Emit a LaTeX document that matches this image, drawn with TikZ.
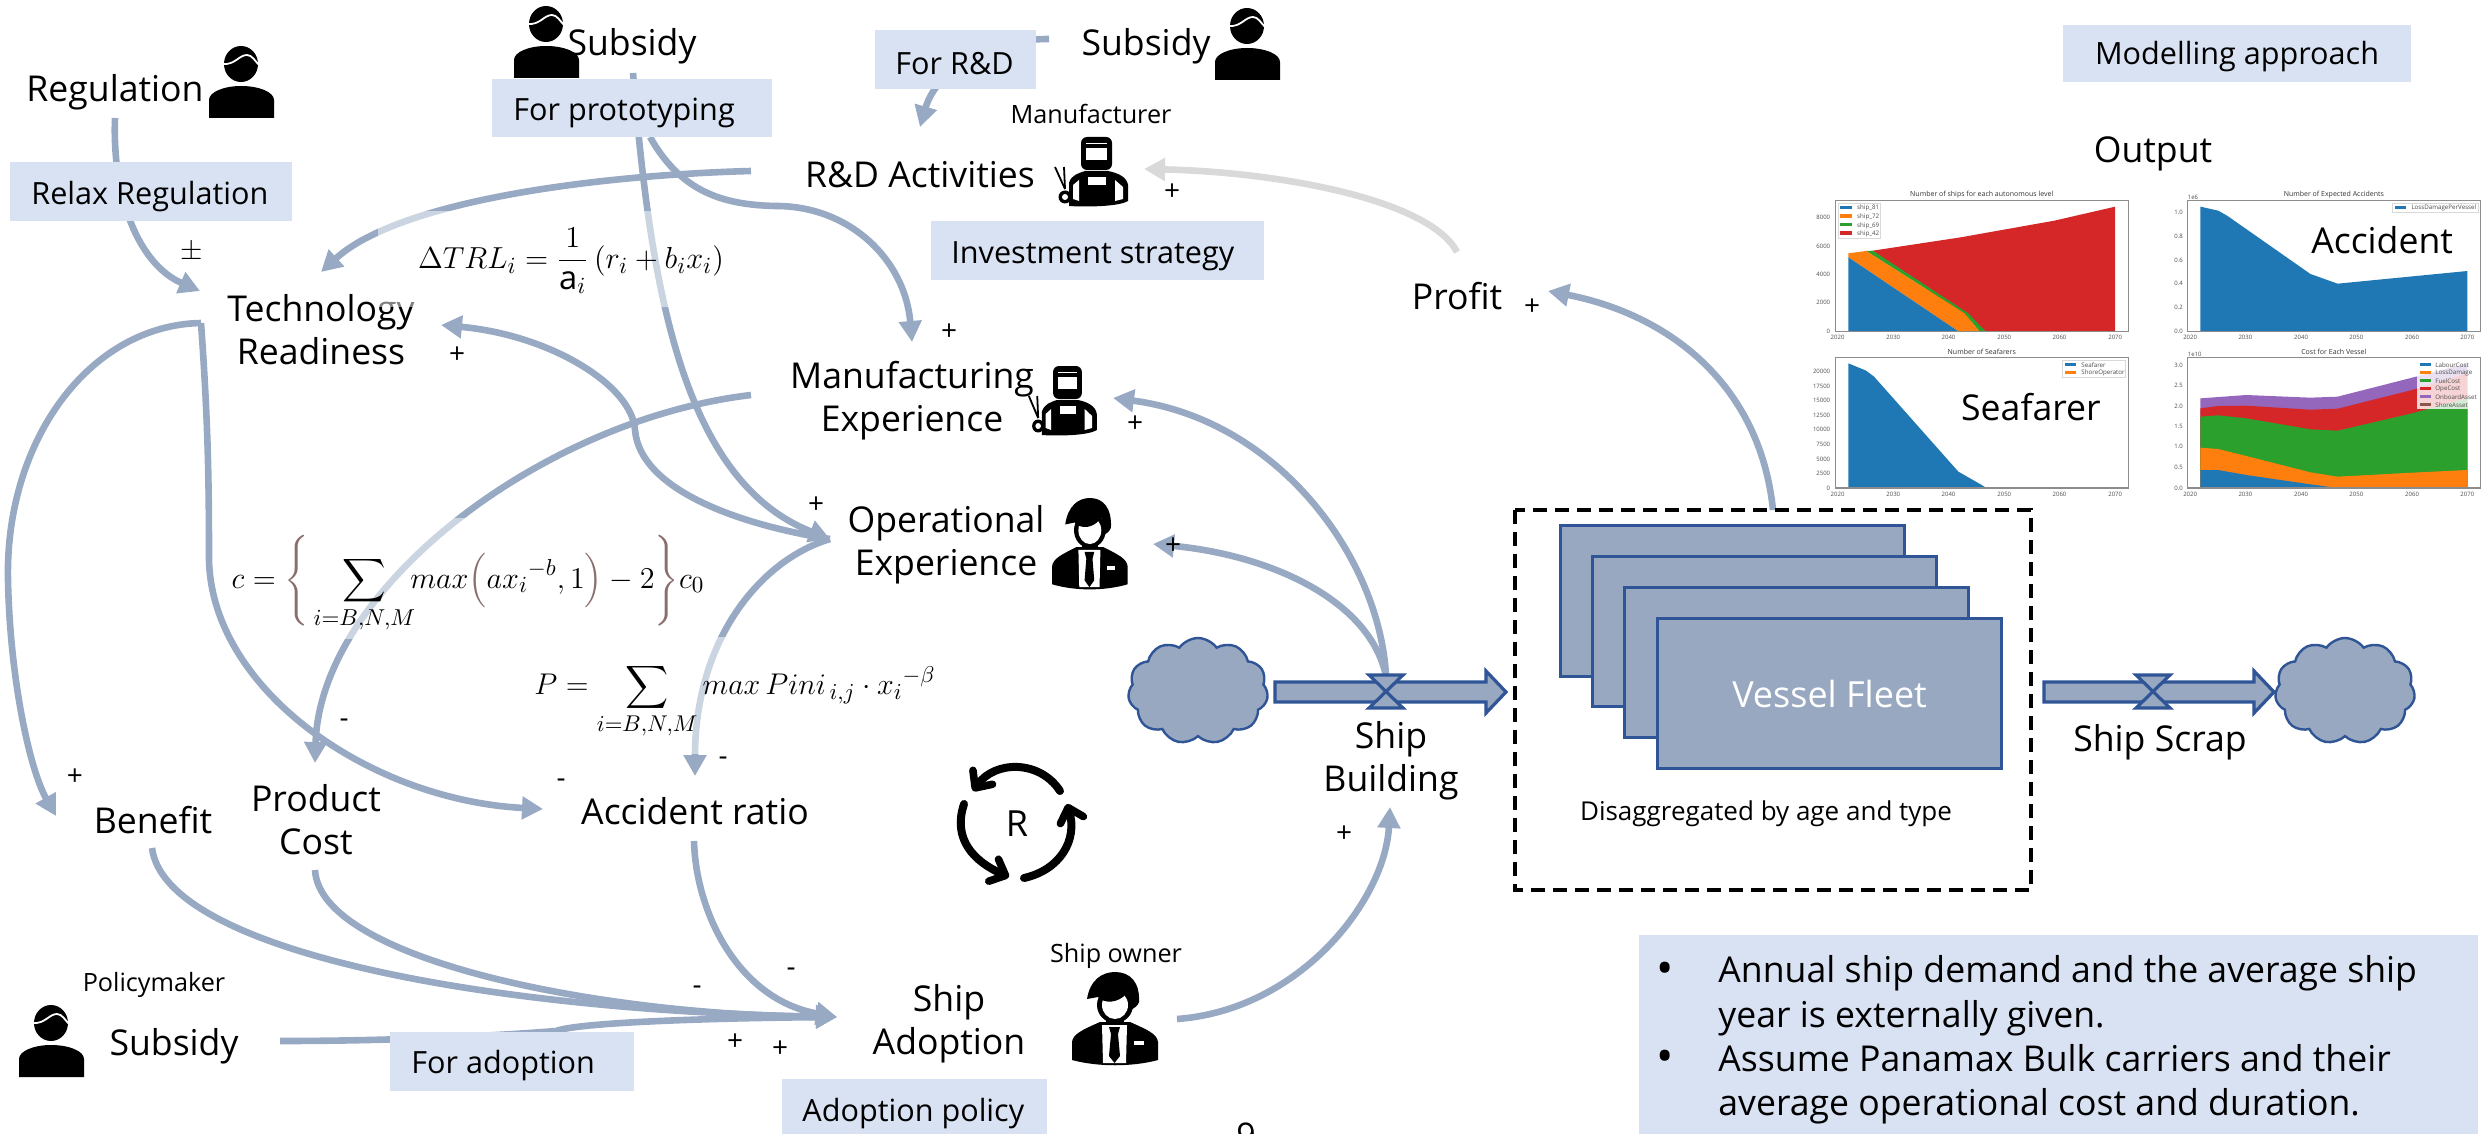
\documentclass[tikz,border=0pt]{standalone}
\usepackage{fontspec}
\usepackage{amsmath}
\setmainfont{Open Sans}
\usetikzlibrary{arrows.meta,shapes.symbols}
\definecolor{linkc}{HTML}{97A9C3}
\definecolor{boxc}{HTML}{D9E2F3}
\definecolor{pipec}{HTML}{97A8C0}
\definecolor{pipeb}{HTML}{2F5597}
\definecolor{grayl}{HTML}{D9D9D9}
\definecolor{brc}{HTML}{8A6D6D}
\definecolor{mplb}{HTML}{1F77B4}
\definecolor{mplo}{HTML}{FF7F0E}
\definecolor{mplg}{HTML}{2CA02C}
\definecolor{mplr}{HTML}{D62728}
\definecolor{mplp}{HTML}{9467BD}
\definecolor{mplbr}{HTML}{8C564B}
\newcommand{\fs}[1]{\fontsize{#1}{#1}\selectfont}
\tikzset{
  big/.style={inner sep=0pt,align=center,font=\fontsize{17.8}{21.6}\selectfont},
  small/.style={inner sep=0pt,align=center,font=\fs{12.6}},
  sign/.style={inner sep=0pt,font=\fs{14}},
  tag/.style={fill=boxc,inner sep=0pt,anchor=north west},
  tagt/.style={font=\fs{15.3},inner sep=0pt,anchor=west},
  link/.style={draw=linkc,line width=3.3pt,-{Triangle[width=11pt,length=10.5pt]}},
  veil/.style={fill=white,fill opacity=.5,draw=none},
  eqn/.style={inner sep=0pt,font=\fs{15.5}},
  pipe/.style={fill=pipec,draw=pipeb,line width=1.6pt,line join=miter},
  puff/.style={cloud,cloud puffs=11,cloud puff arc=110,fill=pipec,draw=pipeb,line width=1.2pt,inner sep=0pt},
  stock/.style={fill=pipec,draw=pipeb,line width=1.6pt},
  loopa/.style={draw=black,line width=4pt,line cap=round,-{Straight Barb[width=12pt,length=6.5pt,line width=3.8pt,round]}},
  tick/.style={inner sep=0pt,font=\fs{3},text=black!70},
  ctitle/.style={inner sep=0pt,font=\fs{3.5},text=black!80},
  lgd/.style={inner sep=0pt,font=\fs{3.1},anchor=west,text=black!70},
  frm/.style={draw=black!45,line width=.6pt},
  personpic/.pic={
    \fill (0,72) -- (0,54) .. controls (0,46) and (15,40) .. (32,40) .. controls (50,40) and (65,46) .. (65,54) -- (65,72) -- cycle;
    \fill (32,18) ellipse [x radius=17,y radius=18];
    \draw[white,line width=.9pt] (14,18) .. controls (26,19) and (30,9) .. (38,9) .. controls (43,9) and (46,15) .. (50,19);
  },
  welderpic/.pic={
    \fill[rounded corners=3] (28,0) rectangle (59,33);
    \fill[white] (33,11) rectangle (54,23);
    \fill[white] (33,6) rectangle (54,7);
    \fill (16,69) -- (16,46) .. controls (18,38) and (26,36) .. (32,34) -- (55,34) .. controls (65,36) and (74,40) .. (75,48) -- (75,64) .. controls (65,70) and (30,70) .. (16,69) -- cycle;
    \fill[white] (62,43) -- (70,50) -- (70,62) -- (62,64) -- cycle;
    \fill[white] (20,48) -- (26,43) -- (26,64) -- (20,62) -- cycle;
    \fill[white] (35,40) rectangle (53,48);
    \draw[line width=.9pt] (2,30) -- (12,52);
    \draw[line width=.9pt] (11,30) -- (12,52);
    \fill (12,60) circle [radius=6.5];
    \fill[white] (12,60) circle [radius=3];
  },
  suitpic/.pic={
    \fill (0,88) -- (0,70) .. controls (1,62) and (10,58) .. (28,50) -- (58,50) .. controls (76,58) and (85,62) .. (86,70) -- (86,88) .. controls (60,95) and (26,95) .. (0,88) -- cycle;
    \fill[white] (30,53) -- (55,53) -- (54,91) -- (31,91) -- cycle;
    \fill (37,55) -- (48,55) -- (46,62) -- (48,84) -- (42.5,91) -- (37,84) -- (39,62) -- cycle;
    \fill[white] (62,69) rectangle (72,73);
    \fill (34,38) rectangle (52,52);
    \fill (43,33) ellipse [x radius=18,y radius=18];
    \fill[white] (43,33) ellipse [x radius=13,y radius=14];
    \fill (15,27) .. controls (18,8) and (30,0) .. (43,0) .. controls (58,0) and (68,10) .. (67,30) .. controls (66,34) and (62,36) .. (59,38) .. controls (59,30) and (58,26) .. (56,20) .. controls (50,28) and (38,33) .. (28,27) -- (26,25) -- cycle;
  },
}
\begin{document}
\begin{tikzpicture}[x=.5pt,y=-.5pt]
\path[use as bounding box] (0,0) rectangle (2484,1134);

% ---------- icons
\pic at (209,46) {personpic};
\pic at (514,6) {personpic};
\pic at (1215,8) {personpic};
\pic at (19,1005) {personpic};
\pic at (1053,137) {welderpic};
\pic[xscale=.93] at (1027,366) {welderpic};
\pic[xscale=.88,yscale=.98] at (1052,498) {suitpic};
\pic at (1072,972) {suitpic};

% ---------- text nodes
\node[big] (regulation) at (115,92) {Regulation};
\node[big] (subsidyb) at (632,46) {Subsidy};
\node[big] (subsidyc) at (1146,46) {Subsidy};
\node[big] (tech) at (321,330) {Technology\\Readiness};
\node[big] (rnd) at (920,175) {R\&D Activities};
\node[small] (maker) at (1091,114) {Manufacturer};
\node[big] (manuf) at (912,401) {Manufacturing\\Experience};
\node[big] (oper) at (946,545) {Operational\\Experience};
\node[big] (profit) at (1457,296) {Profit};
\node[big] (benefit) at (153,820) {Benefit};
\node[big] (cost) at (316,820) {Product\\Cost};
\node[big] (accident) at (695,811) {Accident ratio};
\node[big] (adoption) at (949,1024) {Ship\\Adoption};
\node[small] (policy) at (154,985) {Policymaker};
\node[big] (subsidya) at (174,1046) {Subsidy};
\node[small] (owner) at (1116,956) {Ship owner};
\node[big] (building) at (1391,761) {Ship\\Building};
\node[big] (scrap) at (2160,742) {Ship Scrap};
\node[big] (output) at (2153,154) {Output};
\node[inner sep=0pt,font=\fs{18}] (rmark) at (1017,824) {R};
\node[sign,font=\fs{17}] (pagenum) at (1246,1135) {9};

% ---------- anchors of connectors
\coordinate (regOut) at (115,118);
\coordinate (techA) at (200,291);
\coordinate (techB) at (321,272);
\coordinate (techC) at (441,325);
\coordinate (techOut) at (201,323);
\coordinate (subbOut) at (633,73);
\coordinate (subbOutR) at (650,137);
\coordinate (subcOut) at (1049,39);
\coordinate (rndOutL) at (751,171);
\coordinate (rndIn) at (920,127);
\coordinate (rndInR) at (1144,169);
\coordinate (manIn) at (912,342);
\coordinate (manInR) at (1113,398);
\coordinate (manOut) at (751,395);
\coordinate (opIn) at (830,539);
\coordinate (opOut) at (830,539);
\coordinate (opInR) at (1153,544);
\coordinate (benIn) at (56,816);
\coordinate (costIn) at (315,763);
\coordinate (accIn) at (543,809);
\coordinate (accInT) at (695,776);
\coordinate (benOut) at (152,848);
\coordinate (costOut) at (315,870);
\coordinate (accOut) at (694,841);
\coordinate (subaOut) at (280,1041);
\coordinate (adIn) at (837,1017);
\coordinate (adOut) at (1177,1019);
\coordinate (bldIn) at (1390,807);
\coordinate (valveA) at (1386,676);
\coordinate (profitIn) at (1548,291);
\coordinate (fleetOut) at (1773,510);
\coordinate (profitOut) at (1457,252);

% ---------- causal links
\draw[link] (regOut) .. controls (112,200) and (140,265) .. (techA);
\draw[link] (rndOutL) .. controls (600,175) and (400,200) .. (techB);
\draw[link] (subbOut) .. controls (650,280) and (680,480) .. (opIn);
\draw[link] (subbOutR) .. controls (680,190) and (720,205) .. (776,206) .. controls (850,206) and (905,260) .. (manIn);
\draw[link] (opOut) .. controls (740,525) and (640,490) .. (635,430) .. controls (632,385) and (550,335) .. (techC);
\draw[link] (manOut) .. controls (540,420) and (320,590) .. (costIn);
\draw[link] (techOut) .. controls (208,420) and (209,480) .. (209,560) .. controls (212,690) and (370,800) .. (accIn);
\draw[link] (techOut) .. controls (90,325) and (5,440) .. (8,580) .. controls (10,680) and (30,770) .. (benIn);
\draw[link] (opOut) .. controls (760,560) and (695,640) .. (accInT);
\draw[link] (benOut) .. controls (165,950) and (480,1010) .. (adIn);
\draw[link] (costOut) .. controls (320,960) and (600,1015) .. (adIn);
\draw[link] (accOut) .. controls (696,915) and (740,1000) .. (adIn);
\draw[link] (subaOut) .. controls (380,1041) and (480,1037) .. (556,1031) .. controls (580,1022) and (720,1018) .. (adIn);
\draw[link] (adOut) .. controls (1300,1010) and (1385,900) .. (bldIn);
\draw[link] (valveA) .. controls (1380,560) and (1280,420) .. (manInR);
\draw[link] (valveA) .. controls (1370,600) and (1270,555) .. (opInR);
\draw[link] (fleetOut) .. controls (1760,385) and (1670,315) .. (profitIn);
\draw[link,draw=grayl,-{Triangle[width=11pt,length=10.5pt,fill=grayl]}] (profitOut) .. controls (1430,200) and (1280,172) .. (rndInR);
\draw[link] (subcOut) .. controls (980,39) and (935,75) .. (rndIn);

% ---------- policy boxes
\node[tag,minimum width=141pt,minimum height=29.5pt] (relax) at (10,162) {};
\node[tagt] (relaxt) at (31,197) {Relax Regulation};
\node[tag,minimum width=140pt,minimum height=29pt] (proto) at (492,79) {};
\node[tagt] (protot) at (513,113) {For prototyping};
\node[tag,minimum width=80.5pt,minimum height=29.5pt] (forrd) at (875,30) {};
\node[tagt] (forrdt) at (895,64) {For R\&D};
\node[tag,minimum width=166.5pt,minimum height=29.5pt] (invest) at (931,221) {};
\node[tagt] (investt) at (951,256) {Investment strategy};
\node[tag,minimum width=122pt,minimum height=29.5pt] (foradopt) at (390,1032) {};
\node[tagt] (foradoptt) at (411,1066) {For adoption};
\node[tag,minimum width=132.5pt,minimum height=27.5pt] (adpol) at (782,1079) {};
\node[tagt] (adpolt) at (802,1114) {Adoption policy};
\node[tag,minimum width=174pt,minimum height=28.5pt] (modelbox) at (2063,25) {};
\node[tagt,anchor=center] (modelt) at (2237,57) {Modelling approach};

% ---------- translucent equation boxes and equations
\fill[veil] (378,211) rectangle (730,307);
\fill[veil] (290,518) rectangle (710,639);
\fill[veil] (530,637) rectangle (940,754);
\node[eqn,scale=1.055] (eqa) at (571,261) {$\displaystyle \Delta TRL_i=\frac{1}{\mathrm{a}_i}\,(r_i+b_ix_i)$};
\node[eqn,scale=1.05] (eqb) at (468,584) {$\displaystyle c=\textcolor{brc}{\Biggl\{}\sum_{i=B,N,M}\!\! max\textcolor{brc}{\Bigl(}ax_i{}^{-b},1\textcolor{brc}{\Bigr)}-2\textcolor{brc}{\Biggr\}}c_0$};
\node[eqn,scale=1.04] (eqc) at (735,701) {$\displaystyle P=\sum_{i=B,N,M} max\,Pini_{\,i,j}\cdot x_i{}^{-\beta}$};

% ---------- signs
\node[sign] (s1) at (192,252) {$\pm$};
\node[sign] (s2) at (457,355) {+};
\node[sign] (s3) at (949,332) {+};
\node[sign] (s4) at (1172,192) {+};
\node[sign] (s5) at (1135,424) {+};
\node[sign] (s6) at (816,505) {+};
\node[sign] (s7) at (1173,546) {+};
\node[sign] (s8) at (75,777) {+};
\node[sign] (s9) at (735,1042) {+};
\node[sign] (s10) at (780,1049) {+};
\node[sign] (s11) at (1344,834) {+};
\node[sign] (s12) at (1532,307) {+};
\node[sign] (m1) at (344,723) {-};
\node[sign] (m2) at (561,783) {-};
\node[sign] (m3) at (723,761) {-};
\node[sign] (m4) at (697,990) {-};
\node[sign] (m5) at (791,972) {-};

% ---------- reinforcing loop
\draw[loopa] (1060,791) .. controls (1040,760) and (995,760) .. (973,791);
\draw[loopa] (964,804) .. controls (952,840) and (975,862) .. (1009,877);
\draw[loopa] (1024,878) .. controls (1060,870) and (1078,840) .. (1067,804);

% ---------- stock and flow
\node[puff,minimum width=70pt,minimum height=53pt] (cloudl) at (1198,691) {};
\node[puff,minimum width=70pt,minimum height=53pt] (cloudr) at (2345,691) {};
\path[pipe] (1275,682) -- (1486,682) -- (1486,671) -- (1506,692) -- (1486,713) -- (1486,702) -- (1275,702) -- cycle;
\path[pipe] (1369,675) -- (1403,675) -- (1369,708) -- (1403,708) -- cycle;
\path[pipe] (2044,682) -- (2254,682) -- (2254,671) -- (2274,692) -- (2254,713) -- (2254,702) -- (2044,702) -- cycle;
\path[pipe] (2136,675) -- (2170,675) -- (2136,708) -- (2170,708) -- cycle;
\node[stock,minimum width=172pt,minimum height=75.5pt,anchor=north west,inner sep=0pt] (st1) at (1559,524) {};
\node[stock,minimum width=172pt,minimum height=75pt,anchor=north west,inner sep=0pt] (st2) at (1591,555) {};
\node[stock,minimum width=172pt,minimum height=75pt,anchor=north west,inner sep=0pt] (st3) at (1623,586) {};
\node[stock,minimum width=172pt,minimum height=75pt,anchor=north west,inner sep=0pt,text=white,font=\fs{18}] (st4) at (1656,617) {Vessel Fleet};
\draw[line width=1.7pt,dash pattern=on 7pt off 4pt] (1515,510) rectangle (2031,890);
\node[small,font=\fs{13}] (disagg) at (1766,814) {Disaggregated by age and type};

% ---------- notes
\fill[boxc] (1639,935) rectangle (2478,1134);
\node[inner sep=0pt,anchor=west,align=left,font=\fontsize{17.8}{22.2}\selectfont] (notes) at (1718,1040) {Annual ship demand and the average ship\\year is externally given.\\Assume Panamax Bulk carriers and their\\average operational cost and duration.};
\node[inner sep=0pt,font=\fs{23}] (b1) at (1665,973) {•};
\node[inner sep=0pt,font=\fs{23}] (b2) at (1665,1061) {•};

% ---------- output charts (zoom coordinates)
\begin{scope}[shift={(1750,150)},x=.2341pt,y=-.16667pt]
% chart 1
\fill[mplr] (262,302) -- (450,262) -- (650,212) -- (780,170) -- (780,544) -- (503,544) -- cycle;
\fill[mplg] (248,303) -- (262,302) -- (466,490) -- (503,544) -- (490,544) -- (458,490) -- cycle;
\fill[mplo] (210,310) -- (248,303) -- (458,490) -- (490,544) -- (445,544) -- (210,322) -- cycle;
\fill[mplb] (210,322) -- (445,544) -- (210,544) -- cycle;
\draw[frm] (183,152) rectangle (808,544);
\node[ctitle] (t1) at (495,135) {Number of ships for each autonomous level};
\foreach \v/\yy [count=\k] in {8000/203,6000/289,4000/374,2000/458,0/544}
  \node[tick,anchor=east] (ya\k) at (172,\yy) {\v};
\foreach \v/\xx [count=\k] in {2020/187,2030/306,2040/424,2050/543,2060/661,2070/780}
  \node[tick] (xa\k) at (\xx,562) {\v};
\fill[white,draw=black!15,line width=.3pt] (188,160) rectangle (278,265);
\foreach \c/\t/\yy [count=\k] in {mplb/ship\_81/172,mplo/ship\_72/198,mplg/ship\_69/224,mplr/ship\_42/249}{
  \fill[\c] (192,\yy-5) rectangle (218,\yy+5);
  \node[lgd] (la\k) at (228,\yy+3) {\t};
}
% chart 2
\fill[mplb] (962,544) -- (962,170) -- (1000,182) -- (1020,198) -- (1197,372) -- (1255,401) -- (1532,363) -- (1532,544) -- cycle;
\draw[frm] (935,152) rectangle (1560,544);
\node[ctitle] (t2) at (1247,135) {Number of Expected Accidents};
\node[tick] (e2) at (946,142) {1e6};
\foreach \v/\yy [count=\k] in {1.0/187,0.8/258,0.6/330,0.4/401,0.2/473,0.0/544}
  \node[tick,anchor=east] (yb\k) at (925,\yy) {\v};
\foreach \v/\xx [count=\k] in {2020/940,2030/1058,2040/1177,2050/1295,2060/1414,2070/1532}
  \node[tick] (xb\k) at (\xx,562) {\v};
\fill[white,draw=black!15,line width=.3pt] (1372,160) rectangle (1555,188);
\fill[mplb] (1378,167) rectangle (1402,177);
\node[lgd] (lb1) at (1412,174) {LossDamagePerVessel};
\node[big] (accl) at (1350,270) {Accident};
% chart 3
\fill[mplb] (210,1014) -- (210,640) -- (248,662) -- (265,680) -- (445,965) -- (495,1005) -- (505,1014) -- cycle;
\draw[frm] (183,622) rectangle (808,1014);
\node[ctitle] (t3) at (495,607) {Number of Seafarers};
\foreach \v/\yy [count=\k] in {20000/664,17500/708,15000/752,12500/795,10000/839,7500/883,5000/927,2500/970,0/1014}
  \node[tick,anchor=east] (yc\k) at (172,\yy) {\v};
\foreach \v/\xx [count=\k] in {2020/187,2030/306,2040/424,2050/543,2060/661,2070/780}
  \node[tick] (xc\k) at (\xx,1032) {\v};
\fill[white,draw=black!15,line width=.3pt] (668,632) rectangle (802,682);
\fill[mplb] (673,638) rectangle (697,648);
\node[lgd] (lc1) at (707,645) {Seafarer};
\fill[mplo] (673,662) rectangle (697,672);
\node[lgd] (lc2) at (707,669) {ShoreOperator};
\node[big] (seal) at (600,770) {Seafarer};
% chart 4
\fill[mplp] (962,745) -- (1060,735) -- (1197,743) -- (1255,740) -- (1414,683) -- (1532,640) -- (1532,1014) -- (962,1014) -- cycle;
\fill[mplr] (962,775) -- (1000,768) -- (1060,767) -- (1197,779) -- (1255,776) -- (1414,720) -- (1532,670) -- (1532,1014) -- (962,1014) -- cycle;
\fill[mplg] (962,800) -- (1000,796) -- (1060,805) -- (1197,838) -- (1255,842) -- (1414,790) -- (1532,745) -- (1532,1014) -- (962,1014) -- cycle;
\fill[mplo] (962,893) -- (1000,897) -- (1060,918) -- (1197,967) -- (1255,980) -- (1414,968) -- (1532,960) -- (1532,1014) -- (962,1014) -- cycle;
\fill[mplb] (962,1014) -- (962,960) -- (1000,960) -- (1060,975) -- (1197,1003) -- (1255,1014) -- cycle;
\draw[frm] (935,622) rectangle (1560,1014);
\node[ctitle] (t4) at (1247,607) {Cost for Each Vessel};
\node[tick] (e4) at (950,612) {1e10};
\foreach \v/\yy [count=\k] in {3.0/646,2.5/707,2.0/768,1.5/830,1.0/890,0.5/952,0.0/1014}
  \node[tick,anchor=east] (yd\k) at (925,\yy) {\v};
\foreach \v/\xx [count=\k] in {2020/940,2030/1058,2040/1177,2050/1295,2060/1414,2070/1532}
  \node[tick] (xd\k) at (\xx,1032) {\v};
\fill[white,fill opacity=.8] (1425,632) rectangle (1555,778);
\foreach \c/\t/\yy [count=\k] in {mplb/LabourCost/643,mplo/LossDamage/667,mplg/FuelCost/691,mplr/OpeCost/715,mplp/OnboardAsset/739,mplbr/ShoreAsset/763}{
  \fill[\c] (1430,\yy-5) rectangle (1454,\yy+5);
  \node[lgd] (ld\k) at (1463,\yy+2) {\t};
}
\end{scope}
\end{tikzpicture}
\end{document}
